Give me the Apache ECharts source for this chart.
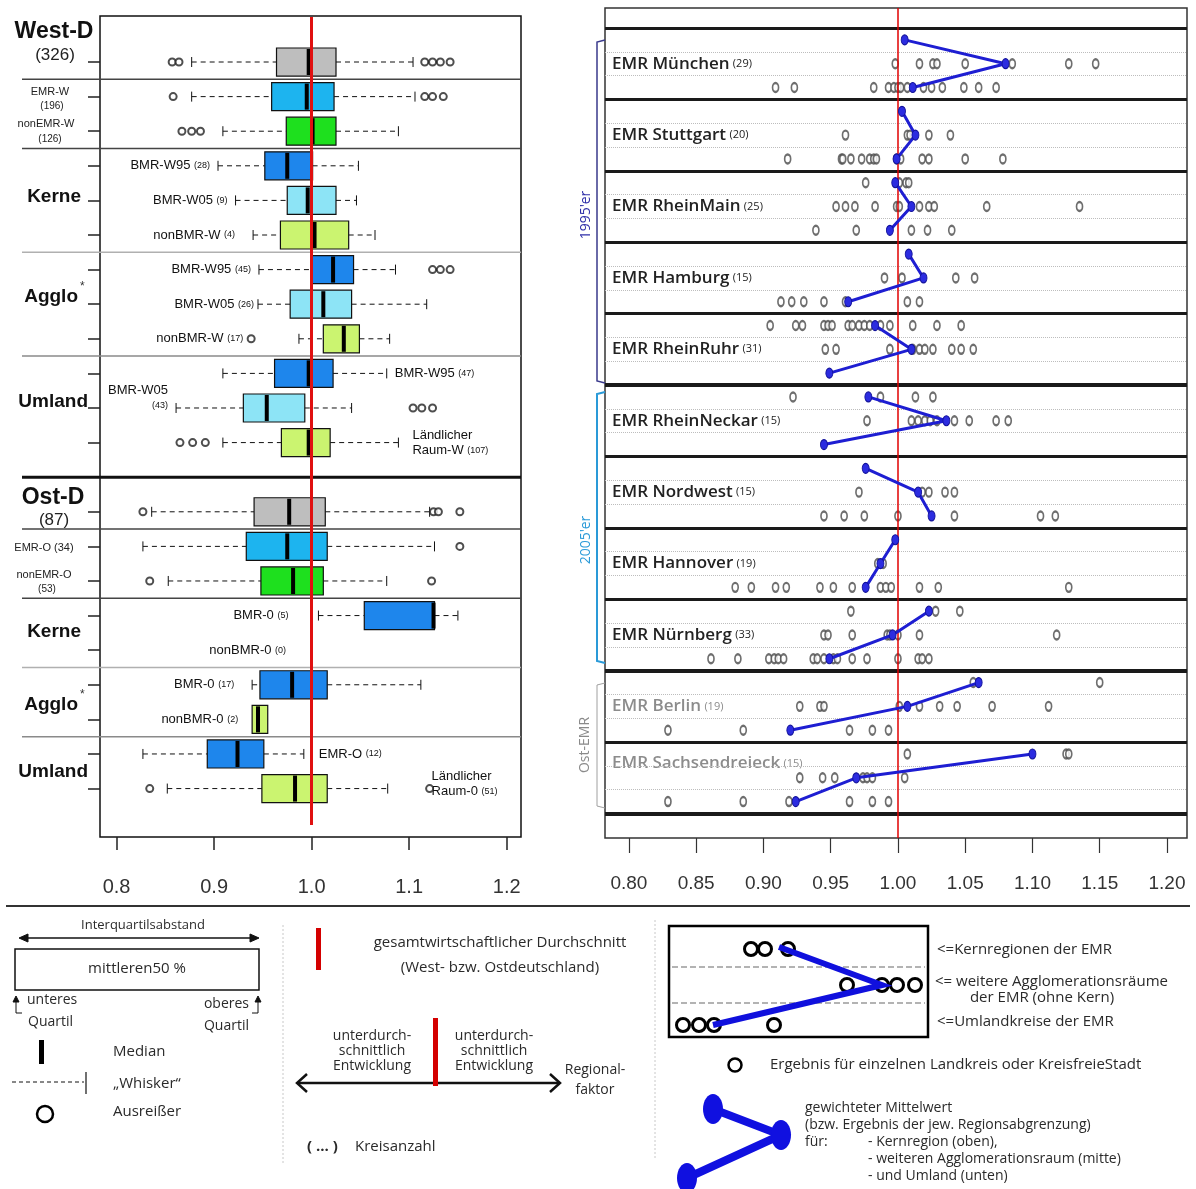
<!DOCTYPE html>
<html>
<head>
<meta charset="utf-8">
<title>Regionalfaktoren West/Ost und EMR</title>
<script src="https://cdn.jsdelivr.net/npm/echarts@6.0.0/dist/echarts.min.js"></script>
<style>
html, body { margin: 0; padding: 0; background: #fff; }
#chart { width: 1196px; height: 1189px; }
</style>
</head>
<body>
<div id="chart"></div>
<script>
// ---------- linke Seite: Boxplots (Zeile 12 = Trennlinie West/Ost) ----------
const boxRows = [0, 1, 2, 3, 4, 5, 6, 7, 8, 9, 10, 11, 13, 14, 15, 16, 17, 18, 19, 20, 21];
const boxKinds = ['gesamt', 'emr', 'nonemr', 'w95', 'w05', 'nonbmr', 'w95', 'w05', 'nonbmr', 'w95', 'w05', 'nonbmr',
    'gesamt', 'emr', 'nonemr', 'w95', 'nonbmr', 'w95', 'nonbmr', 'w95', 'nonbmr'];
const boxLow    = [0.877, 0.877, 0.909, 0.904, 0.922, 0.940, 0.946, 0.945, 0.987, 0.909, 0.861, 0.909,
    0.836, 0.827, 0.853, 1.007, null, 0.939, 0.939, 0.827, 0.852];
const boxQ1     = [0.964, 0.959, 0.974, 0.952, 0.975, 0.968, 0.999, 0.978, 1.012, 0.962, 0.930, 0.969,
    0.941, 0.933, 0.948, 1.054, null, 0.947, 0.939, 0.893, 0.949];
const boxMedian = [0.997, 0.995, 1.001, 0.975, 0.996, 1.003, 1.022, 1.012, 1.033, 0.997, 0.954, 0.997,
    0.977, 0.975, 0.981, 1.125, null, 0.980, 0.945, 0.924, 0.983];
const boxQ3     = [1.025, 1.023, 1.025, 1.001, 1.025, 1.038, 1.043, 1.041, 1.049, 1.022, 0.993, 1.019,
    1.014, 1.016, 1.012, 1.126, null, 1.016, 0.955, 0.951, 1.016];
const boxHigh   = [1.104, 1.106, 1.089, 1.048, 1.046, 1.065, 1.086, 1.118, 1.080, 1.077, 1.041, 1.089,
    1.121, 1.126, 1.077, 1.150, null, 1.112, 0.955, 0.992, 1.078];
const boxOutliers = [
    [0.857, 0.864, 1.116, 1.124, 1.132, 1.142],
    [0.858, 1.116, 1.124, 1.135],
    [0.867, 0.877, 0.886],
    [], [], [],
    [1.124, 1.132, 1.142],
    [],
    [0.938],
    [],
    [1.104, 1.113, 1.124],
    [0.865, 0.878, 0.891],
    [0.827, 1.125, 1.130, 1.152],
    [1.152],
    [0.834, 1.123],
    [], [], [], [], [],
    [0.834, 1.121]
];
const xTicksLeft = [0.8, 0.9, 1.0, 1.1, 1.2];

// ---------- rechte Seite: EMR-Regionen ----------
const regionNames = ['EMR München', 'EMR Stuttgart', 'EMR RheinMain', 'EMR Hamburg', 'EMR RheinRuhr',
    'EMR RheinNeckar', 'EMR Nordwest', 'EMR Hannover', 'EMR Nürnberg', 'EMR Berlin', 'EMR Sachsendreieck'];
const regionCounts = [29, 20, 25, 15, 31, 15, 15, 19, 33, 19, 15];
const regionEast = [false, false, false, false, false, false, false, false, false, true, true];
const meanKern   = [1.005, 1.003, 0.998, 1.008, 0.983, 0.978, 0.976, 0.998, 1.023, 1.060, 1.100];
const meanAgglo  = [1.080, 1.013, 1.010, 1.019, 1.010, 1.036, 1.015, 0.987, 0.996, 1.007, 0.969];
const meanUmland = [1.011, 0.999, 0.994, 0.963, 0.949, 0.945, 1.025, 0.976, 0.949, 0.920, 0.924];
const dotsKern = [
    [],
    [],
    [0.976, 1.001, 1.006, 1.008],
    [],
    [0.905, 0.924, 0.929, 0.945, 0.948, 0.951, 0.963, 0.966, 0.971, 0.975, 0.979, 0.987, 0.994, 1.011, 1.029, 1.047],
    [0.922, 0.987, 1.013, 1.026],
    [],
    [],
    [0.965, 1.028, 1.046],
    [1.056, 1.150],
    [1.007, 1.125, 1.127]
];
const dotsAgglo = [
    [0.998, 1.016, 1.026, 1.029, 1.050, 1.085, 1.127, 1.147],
    [0.961, 1.007, 1.009, 1.023, 1.039],
    [0.954, 0.961, 0.968, 0.983, 0.999, 1.001, 1.016, 1.023, 1.027, 1.066, 1.135],
    [0.990, 1.003, 1.043, 1.057],
    [0.946, 0.954, 0.994, 1.011, 1.016, 1.020, 1.026, 1.040, 1.047, 1.056],
    [0.977, 1.010, 1.015, 1.020, 1.024, 1.029, 1.042, 1.053, 1.073, 1.082],
    [0.971, 1.018, 1.023, 1.035, 1.042],
    [0.985, 0.989],
    [0.945, 0.948, 0.966, 0.992, 0.994, 1.000, 1.016, 1.118],
    [0.927, 0.942, 0.945, 1.001, 1.016, 1.031, 1.044, 1.070, 1.112],
    [0.927, 0.944, 0.953, 0.974, 0.977, 0.981, 1.005]
];
const dotsUmland = [
    [0.909, 0.923, 0.982, 0.993, 0.997, 1.000, 1.002, 1.007, 1.019, 1.025, 1.033, 1.049, 1.060, 1.073],
    [0.918, 0.958, 0.959, 0.965, 0.973, 0.979, 0.982, 0.984, 0.999, 1.002, 1.018, 1.023, 1.050, 1.078],
    [0.939, 0.969, 1.010, 1.022, 1.040],
    [0.913, 0.921, 0.930, 0.945, 0.961, 1.007, 1.016],
    [],
    [],
    [0.945, 0.960, 0.975, 1.000, 1.042, 1.106, 1.117],
    [0.879, 0.891, 0.909, 0.917, 0.942, 0.952, 0.966, 0.987, 0.991, 0.995, 1.016, 1.030, 1.127],
    [0.861, 0.881, 0.904, 0.908, 0.911, 0.915, 0.937, 0.940, 0.945, 0.952, 0.955, 0.966, 0.977, 1.000, 1.015, 1.018, 1.023],
    [0.829, 0.885, 0.964, 0.981, 0.993],
    [0.829, 0.885, 0.919, 0.964, 0.981, 0.993]
];
const xTicksRight = [0.80, 0.85, 0.90, 0.95, 1.00, 1.05, 1.10, 1.15, 1.20];

// ---------- Darstellung ----------
const boxColors = {
    gesamt: '#BEBEBE', emr: '#1DB4EF', nonemr: '#1EE01E',
    w95: '#1E86EC', w05: '#8DE4F6', nonbmr: '#CBF470'
};
const ARIAL = "'Liberation Sans', Arial, sans-serif";
const NARROW = "'Liberation Sans Narrow', 'Liberation Sans', Arial, sans-serif";
const CAL = "'Open Sans', 'Noto Sans', sans-serif";

// Beschriftungen im linken Plot (an Whisker/Ausreißer angehängt)
const notes = [
    { row: 3, side: 'left', text: 'BMR-W95 {s|(28)}' },
    { row: 4, side: 'left', text: 'BMR-W05 {s|(9)}' },
    { row: 5, side: 'left', text: 'nonBMR-W {s|(4)}', gap: 18 },
    { row: 6, side: 'left', text: 'BMR-W95 {s|(45)}' },
    { row: 7, side: 'left', text: 'BMR-W05 {s|(26)}', gap: 4 },
    { row: 8, side: 'left', text: 'nonBMR-W {s|(17)}' },
    { row: 9, side: 'right', text: 'BMR-W95 {s|(47)}' },
    { row: 10, side: 'left', text: 'BMR-W05\n  {s|(43)}', dy: -10 },
    { row: 11, side: 'right', text: 'Ländlicher\nRaum-W {s|(107)}', gap: 14 },
    { row: 16, side: 'left', text: 'BMR-0 {s|(5)}', gap: 30 },
    { row: 17, side: 'left', text: 'nonBMR-0 {s|(0)}', at: 0.982 },
    { row: 18, side: 'left', text: 'BMR-0 {s|(17)}', gap: 18 },
    { row: 19, side: 'left', text: 'nonBMR-0 {s|(2)}', gap: 14 },
    { row: 20, side: 'right', text: 'EMR-O {s|(12)}', gap: 15 },
    { row: 21, side: 'right', text: 'Ländlicher\nRaum-0 {s|(51)}', gap: 2, dy: -5 }
];

const LX_MIN = 0.783, LX_MAX = 1.2147;
const RX_MIN = 0.7822, RX_MAX = 1.2149;

// Boxplot-Daten aufbauen
const boxData = [];
const outlierData = [];
boxRows.forEach((row, i) => {
    if (boxLow[i] !== null) {
        boxData.push([row, boxLow[i], boxQ1[i], boxMedian[i], boxQ3[i], boxHigh[i], i]);
    }
    boxOutliers[i].forEach(v => outlierData.push([v, row]));
});

function renderBox(params, api) {
    const row = api.value(0);
    const vals = [1, 2, 3, 4, 5].map(d => api.value(d));
    const kind = boxKinds[api.value(6)];
    const px = vals.map(v => api.coord([v, row])[0]);
    const y = api.coord([vals[0], row])[1];
    const h = api.size([0, 0.81])[1];
    const children = [];
    const dash = { stroke: '#111', lineWidth: 1, lineDash: [5, 4] };
    if (px[0] < px[1] - 0.5) {
        children.push({ type: 'line', shape: { x1: px[0], y1: y, x2: px[1], y2: y }, style: dash });
        children.push({ type: 'line', shape: { x1: px[0], y1: y - 5, x2: px[0], y2: y + 5 }, style: { stroke: '#111', lineWidth: 1 } });
    }
    if (px[4] > px[3] + 0.5) {
        children.push({ type: 'line', shape: { x1: px[3], y1: y, x2: px[4], y2: y }, style: dash });
        children.push({ type: 'line', shape: { x1: px[4], y1: y - 5, x2: px[4], y2: y + 5 }, style: { stroke: '#111', lineWidth: 1 } });
    }
    children.push({
        type: 'rect', shape: { x: px[1], y: y - h / 2, width: px[3] - px[1], height: h },
        style: { fill: boxColors[kind], stroke: '#111', lineWidth: 1.2 }
    });
    children.push({
        type: 'line', shape: { x1: px[2], y1: y - h / 2 + 1, x2: px[2], y2: y + h / 2 - 1 },
        style: { stroke: '#000', lineWidth: 4 }, z2: 10
    });
    return { type: 'group', children };
}

// Anker für Beschriftungen
const noteData = notes.map((n, k) => {
    const i = boxRows.indexOf(n.row);
    let at = n.at;
    if (at === undefined) {
        const out = boxOutliers[i];
        if (n.side === 'left') at = Math.min(boxLow[i], ...out);
        else at = Math.max(boxHigh[i], ...out);
    }
    return [at, n.row, k];
});

function renderNote(params, api) {
    const n = notes[api.value(2)];
    const p = api.coord([api.value(0), api.value(1)]);
    const gap = n.gap !== undefined ? n.gap : 8;
    const left = n.side === 'left';
    return {
        type: 'text',
        x: left ? p[0] - gap : p[0] + gap,
        y: p[1] + (n.dy || 0),
        style: {
            text: n.text, fill: '#111', font: '13px ' + ARIAL,
            align: left ? 'right' : 'left', verticalAlign: 'middle', lineHeight: 15,
            rich: { s: { fontSize: 9, fontFamily: ARIAL, fill: '#111' } }
        }
    };
}

// Trennlinien links (laufen bis in den Beschriftungsbereich)
const sepLeft = [[0.5, 0], [2.5, 0], [5.5, 1], [8.5, 2], [12, 3], [13.5, 0], [15.5, 0], [17.5, 1], [19.5, 2]];
const sepStyles = [
    { stroke: '#444', lineWidth: 1.5 },
    { stroke: '#B0B0B0', lineWidth: 1.5 },
    { stroke: '#8A8A8A', lineWidth: 1.5 },
    { stroke: '#111', lineWidth: 3 }
];

// Punkte / Mittelwerte rechts
const dotData = [];
regionNames.forEach((_, i) => {
    dotsKern[i].forEach(v => dotData.push([v, 3 * i]));
    dotsAgglo[i].forEach(v => dotData.push([v, 3 * i + 1]));
    dotsUmland[i].forEach(v => dotData.push([v, 3 * i + 2]));
});

const rightLines = [];
for (let i = 0; i < regionNames.length; i++) {
    rightLines.push({ yAxis: 3 * i - 0.5, lineStyle: { color: '#1a1a1a', width: (i === 5 || i === 9) ? 4 : 3, type: 'solid' } });
    rightLines.push({ yAxis: 3 * i + 0.5, lineStyle: { color: '#BDBDBD', width: 1, type: 'dotted' } });
    rightLines.push({ yAxis: 3 * i + 1.5, lineStyle: { color: '#BDBDBD', width: 1, type: 'dotted' } });
}
rightLines.push({ yAxis: 3 * regionNames.length - 0.5, lineStyle: { color: '#1a1a1a', width: 4, type: 'solid' } });
rightLines.push({ xAxis: 1.0, lineStyle: { color: '#E00000', width: 1.5, type: 'solid' } });

const labelShift = { 10: -0.6 };
const regionLabelValues = regionNames.map((_, i) => 3 * i + 1 + (labelShift[i] || 0));

const meanSeries = regionNames.map((name, i) => ({
    name: name, type: 'line', xAxisIndex: 1, yAxisIndex: 1,
    data: [[meanKern[i], 3 * i], [meanAgglo[i], 3 * i + 1], [meanUmland[i], 3 * i + 2]],
    symbol: 'circle', symbolSize: [7, 10],
    lineStyle: { color: '#1E1ED2', width: 3 },
    itemStyle: { color: '#2C2CE0', borderColor: '#12129A', borderWidth: 1 },
    z: 5, silent: true, animation: false
}));

// ---------- Legende (Grafik) ----------
function txt(x, y, text, opt) {
    opt = opt || {};
    return {
        type: 'text', x: x, y: y, rotation: opt.rotation || 0, z: 100,
        style: {
            text: text, fill: opt.fill || '#2a2a2a',
            font: (opt.weight || 'normal') + ' ' + (opt.size || 15) + 'px ' + (opt.family || CAL),
            align: opt.align || 'left', verticalAlign: 'middle', lineHeight: opt.lh || 16
        }
    };
}
function ln(x1, y1, x2, y2, stroke, w, dash) {
    return { type: 'line', z: 100, shape: { x1, y1, x2, y2 }, style: { stroke: stroke, lineWidth: w, lineDash: dash || null } };
}
function poly(points, stroke, w, fill) {
    return { type: fill ? 'polygon' : 'polyline', z: 100, shape: { points }, style: { stroke: stroke, lineWidth: w, fill: fill || null } };
}
function circ(cx, cy, r, stroke, w) {
    return { type: 'circle', z: 100, shape: { cx, cy, r }, style: { stroke: stroke, lineWidth: w, fill: '#fff' } };
}

const graphics = [
    // linke Beschriftungen
    txt(54, 32, 'West-D', { family: ARIAL, weight: 'bold', size: 23, align: 'center', fill: '#111' }),
    txt(55, 55, '(326)', { family: ARIAL, size: 17, align: 'center', fill: '#222' }),
    txt(50, 92, 'EMR-W', { family: ARIAL, size: 11, align: 'center', fill: '#222' }),
    txt(52, 106, '(196)', { family: ARIAL, size: 10, align: 'center', fill: '#222' }),
    txt(46, 124, 'nonEMR-W', { family: ARIAL, size: 11, align: 'center', fill: '#222' }),
    txt(50, 139, '(126)', { family: ARIAL, size: 10, align: 'center', fill: '#222' }),
    txt(81, 197, 'Kerne', { family: ARIAL, weight: 'bold', size: 19, align: 'right', fill: '#111' }),
    txt(78, 297, 'Agglo', { family: ARIAL, weight: 'bold', size: 19, align: 'right', fill: '#111' }),
    txt(80, 287, '*', { family: ARIAL, size: 12, fill: '#333' }),
    txt(88, 402, 'Umland', { family: ARIAL, weight: 'bold', size: 19, align: 'right', fill: '#111' }),
    txt(53, 498, 'Ost-D', { family: ARIAL, weight: 'bold', size: 23, align: 'center', fill: '#111' }),
    txt(54, 520, '(87)', { family: ARIAL, size: 17, align: 'center', fill: '#222' }),
    txt(44, 548, 'EMR-O (34)', { family: ARIAL, size: 11, align: 'center', fill: '#222' }),
    txt(44, 575, 'nonEMR-O', { family: ARIAL, size: 11, align: 'center', fill: '#222' }),
    txt(47, 589, '(53)', { family: ARIAL, size: 10, align: 'center', fill: '#222' }),
    txt(81, 632, 'Kerne', { family: ARIAL, weight: 'bold', size: 19, align: 'right', fill: '#111' }),
    txt(78, 705, 'Agglo', { family: ARIAL, weight: 'bold', size: 19, align: 'right', fill: '#111' }),
    txt(80, 695, '*', { family: ARIAL, size: 12, fill: '#333' }),
    txt(88, 772, 'Umland', { family: ARIAL, weight: 'bold', size: 19, align: 'right', fill: '#111' }),

    // Klammern rechts
    poly([[605, 40], [597, 42], [597, 381], [605, 383]], '#3A3A8C', 1.5),
    txt(586, 215, "1995'er", { rotation: Math.PI / 2, align: 'center', size: 14, fill: '#2E2EA8' }),
    poly([[605, 392], [597, 394], [597, 661], [605, 663]], '#2A9AD8', 2),
    txt(586, 540, "2005'er", { rotation: Math.PI / 2, align: 'center', size: 14, fill: '#2A9AD8' }),
    poly([[605, 683], [597, 685], [597, 806], [605, 808]], '#A0A0A0', 1),
    txt(585, 745, 'Ost-EMR', { rotation: Math.PI / 2, align: 'center', size: 14, fill: '#8A8A8A' }),

    // Legende
    ln(6, 906, 1190, 906, '#333', 2),
    txt(143, 925, 'Interquartilsabstand', { size: 13, align: 'center' }),
    ln(22, 938, 256, 938, '#111', 1.5),
    poly([[28, 934], [19, 938], [28, 942]], '#111', 1, '#111'),
    poly([[250, 934], [259, 938], [250, 942]], '#111', 1, '#111'),
    { type: 'rect', z: 100, shape: { x: 15, y: 949, width: 244, height: 41 }, style: { stroke: '#111', lineWidth: 1.5, fill: '#fff' } },
    txt(137, 969, 'mittleren50 %', { size: 15, align: 'center' }),
    poly([[22, 1013], [16, 1013], [16, 998]], '#111', 1),
    poly([[13, 1002], [16, 996], [19, 1002]], '#111', 1, '#111'),
    txt(27, 1000, 'unteres', { size: 14 }),
    txt(28, 1022, 'Quartil', { size: 14 }),
    poly([[252, 1013], [258, 1013], [258, 998]], '#111', 1),
    poly([[255, 1002], [258, 996], [261, 1002]], '#111', 1, '#111'),
    txt(249, 1004, 'oberes', { size: 14, align: 'right' }),
    txt(249, 1026, 'Quartil', { size: 14, align: 'right' }),
    { type: 'rect', z: 100, shape: { x: 39, y: 1040, width: 5, height: 24 }, style: { fill: '#000' } },
    txt(113, 1052, 'Median', { size: 15 }),
    ln(12, 1082, 84, 1082, '#111', 1, [4, 3]),
    ln(86, 1072, 86, 1094, '#111', 1.2),
    txt(113, 1084, '„Whisker“', { size: 15 }),
    circ(45, 1114, 8, '#000', 2.5),
    txt(113, 1112, 'Ausreißer', { size: 15 }),
    ln(283, 925, 283, 1165, '#C8C8C8', 1, [2, 2]),

    { type: 'rect', z: 100, shape: { x: 316, y: 928, width: 5, height: 42 }, style: { fill: '#D40000' } },
    txt(500, 943, 'gesamtwirtschaftlicher Durchschnitt', { size: 15, align: 'center' }),
    txt(500, 968, '(West- bzw. Ostdeutschland)', { size: 15, align: 'center' }),
    ln(298, 1083, 559, 1083, '#111', 2.5),
    poly([[307, 1074], [297, 1083], [307, 1092]], '#111', 2.5),
    poly([[550, 1074], [560, 1083], [550, 1092]], '#111', 2.5),
    { type: 'rect', z: 101, shape: { x: 433, y: 1018, width: 5, height: 68 }, style: { fill: '#D40000' } },
    txt(372, 1051, 'unterdurch-\nschnittlich\nEntwicklung', { size: 14, align: 'center', lh: 15 }),
    txt(494, 1051, 'unterdurch-\nschnittlich\nEntwicklung', { size: 14, align: 'center', lh: 15 }),
    txt(595, 1080, 'Regional-\nfaktor', { size: 14, align: 'center', lh: 20 }),
    txt(307, 1147, '( ... )', { size: 15, weight: 'bold' }),
    txt(355, 1147, 'Kreisanzahl', { size: 15 }),
    ln(655, 920, 655, 1160, '#C8C8C8', 1, [2, 2]),

    { type: 'rect', z: 100, shape: { x: 669, y: 926, width: 259, height: 111 }, style: { stroke: '#000', lineWidth: 2.5, fill: '#fff' } },
    ln(672, 967, 925, 967, '#9A9A9A', 1.5, [6, 3]),
    ln(672, 1003, 925, 1003, '#9A9A9A', 1.5, [6, 3]),
    circ(751, 949, 6.5, '#000', 3), circ(765, 949, 6.5, '#000', 3), circ(788, 949, 6.5, '#000', 3),
    circ(847, 985, 6.5, '#000', 3), circ(882, 985, 6.5, '#000', 3), circ(897, 985, 6.5, '#000', 3), circ(915, 985, 6.5, '#000', 3),
    circ(683, 1025, 6.5, '#000', 3), circ(699, 1025, 6.5, '#000', 3), circ(714, 1025, 6.5, '#000', 3), circ(774, 1025, 6.5, '#000', 3),
    poly([[779, 947], [882, 985], [713, 1025]], '#1010DD', 6),
    txt(937, 950, '<=Kernregionen der EMR', { size: 15 }),
    txt(935, 982, '<= weitere Agglomerationsräume', { size: 15 }),
    txt(1042, 998, 'der EMR (ohne Kern)', { size: 15, align: 'center' }),
    txt(937, 1022, '<=Umlandkreise der EMR', { size: 15 }),
    circ(735, 1065, 6.5, '#000', 2.5),
    txt(770, 1065, 'Ergebnis für einzelnen Landkreis oder KreisfreieStadt', { size: 15 }),
    poly([[713, 1109], [781, 1135], [687, 1178]], '#1010E0', 8),
    { type: 'ellipse', z: 101, shape: { cx: 713, cy: 1109, rx: 10, ry: 15 }, style: { fill: '#1010E0' } },
    { type: 'ellipse', z: 101, shape: { cx: 781, cy: 1135, rx: 10, ry: 15 }, style: { fill: '#1010E0' } },
    { type: 'ellipse', z: 101, shape: { cx: 687, cy: 1178, rx: 10, ry: 15 }, style: { fill: '#1010E0' } },
    txt(805, 1108, 'gewichteter Mittelwert', { size: 14 }),
    txt(805, 1125, '(bzw. Ergebnis der jew. Regionsabgrenzung)', { size: 14 }),
    txt(805, 1142, 'für:', { size: 14 }),
    txt(868, 1142, '- Kernregion (oben),', { size: 14 }),
    txt(868, 1159, '- weiteren Agglomerationsraum (mitte)', { size: 14 }),
    txt(868, 1176, '- und Umland (unten)', { size: 14 })
];

const chart = echarts.init(document.getElementById('chart'));

const option = {
    backgroundColor: '#fff',
    animation: false,
    grid: [
        { left: 100, top: 16, width: 421, height: 821, show: true, borderColor: '#111', borderWidth: 1.5 },
        { left: 605, top: 8, width: 582, height: 830, show: true, borderColor: '#333', borderWidth: 1.5 }
    ],
    xAxis: [
        {
            gridIndex: 0, type: 'value', min: LX_MIN, max: LX_MAX,
            axisLine: { show: false, onZero: false }, splitLine: { show: false },
            axisTick: { customValues: xTicksLeft, length: 13, lineStyle: { color: '#222', width: 1.5 } },
            axisLabel: {
                customValues: xTicksLeft, margin: 40, color: '#333', fontSize: 20, fontFamily: ARIAL,
                formatter: v => v.toFixed(1)
            }
        },
        {
            gridIndex: 1, type: 'value', min: RX_MIN, max: RX_MAX,
            axisLine: { show: false, onZero: false }, splitLine: { show: false },
            axisTick: { customValues: xTicksRight, length: 15, lineStyle: { color: '#333', width: 1.2 } },
            axisLabel: {
                customValues: xTicksRight, margin: 36, color: '#333', fontSize: 19, fontFamily: NARROW,
                formatter: v => v.toFixed(2)
            }
        }
    ],
    yAxis: [
        {
            gridIndex: 0, type: 'value', inverse: true, min: -1.33, max: 22.4,
            axisLine: { show: false, onZero: false }, splitLine: { show: false },
            axisTick: { customValues: boxRows, length: 12, lineStyle: { color: '#222', width: 1.5 } },
            axisLabel: { show: false }
        },
        {
            gridIndex: 1, type: 'value', inverse: true, min: -1.34, max: 33.53,
            axisLine: { show: false, onZero: false }, splitLine: { show: false }, axisTick: { show: false },
            axisLabel: {
                inside: true, margin: 7, customValues: regionLabelValues,
                formatter: v => {
                    const i = regionLabelValues.findIndex(x => Math.abs(x - v) < 1e-6);
                    if (i < 0) return '';
                    const e = regionEast[i] ? 'E' : '';
                    return '{n' + e + '|' + regionNames[i] + '} {c' + e + '|(' + regionCounts[i] + ')}';
                },
                rich: {
                    n: { fontFamily: CAL, fontSize: 17, fontWeight: 600, color: '#222' },
                    c: { fontFamily: CAL, fontSize: 11, color: '#222' },
                    nE: { fontFamily: CAL, fontSize: 17, fontWeight: 600, color: '#8C8C8C' },
                    cE: { fontFamily: CAL, fontSize: 11, color: '#8C8C8C' }
                }
            }
        }
    ],
    series: [
        {
            name: 'Trennlinien', type: 'custom', xAxisIndex: 0, yAxisIndex: 0, silent: true, z: 1,
            data: sepLeft,
            renderItem: (params, api) => {
                const p = api.coord([LX_MAX, api.value(0)]);
                return { type: 'line', shape: { x1: 22, y1: p[1], x2: p[0], y2: p[1] }, style: sepStyles[api.value(1)] };
            }
        },
        {
            name: 'Boxplots', type: 'custom', xAxisIndex: 0, yAxisIndex: 0, silent: true, z: 3,
            data: boxData, renderItem: renderBox,
            markLine: {
                silent: true, symbol: ['none', 'none'], label: { show: false },
                lineStyle: { color: '#E01010', width: 3, type: 'solid' },
                data: [[{ coord: [1.0, -1.3] }, { coord: [1.0, 22.05] }]]
            }
        },
        {
            name: 'Ausreißer', type: 'scatter', xAxisIndex: 0, yAxisIndex: 0, silent: true, z: 4,
            data: outlierData, symbol: 'emptyCircle', symbolSize: 7,
            itemStyle: { color: '#222', borderColor: '#222', borderWidth: 1 }
        },
        {
            name: 'Beschriftung', type: 'custom', xAxisIndex: 0, yAxisIndex: 0, silent: true, z: 4,
            data: noteData, renderItem: renderNote
        },
        {
            name: 'Kreise', type: 'scatter', xAxisIndex: 1, yAxisIndex: 1, silent: true, z: 3,
            data: dotData, symbol: 'emptyCircle', symbolSize: [6, 9],
            itemStyle: { color: '#4a4a4a', borderColor: '#4a4a4a', borderWidth: 1.2 },
            markLine: {
                silent: true, symbol: ['none', 'none'], label: { show: false },
                data: rightLines
            }
        },
        ...meanSeries
    ],
    graphic: graphics
};

chart.setOption(option);
</script>
</body>
</html>
